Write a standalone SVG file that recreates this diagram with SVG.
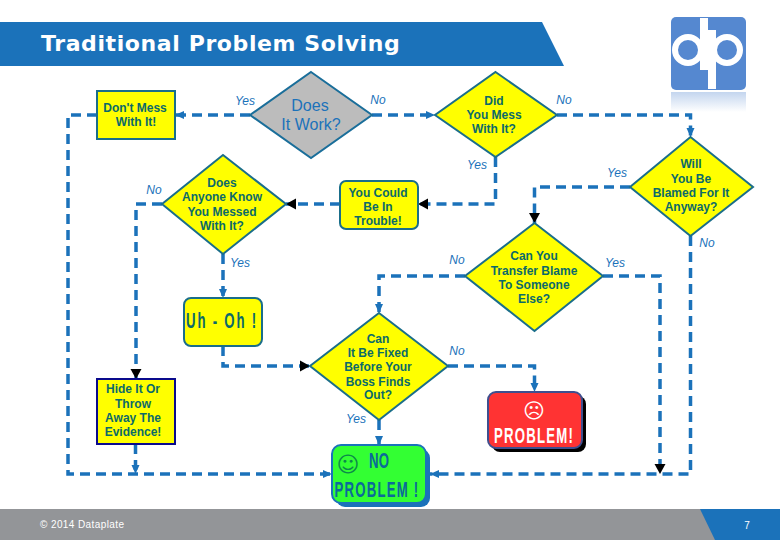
<svg xmlns="http://www.w3.org/2000/svg" width="780" height="540" viewBox="0 0 780 540">
<style>
.box{fill:#ffff00;stroke:#1a6e8a;stroke-width:2}
.t{font:bold 12px "Liberation Sans",Arial,sans-serif;fill:#0b6a6a;text-anchor:middle}
.l{font:italic 12px "Liberation Sans",Arial,sans-serif;fill:#1b72ba;text-anchor:middle}
.c{fill:none;stroke:#1b72ba;stroke-width:3.5;stroke-dasharray:10 6}
.b{font-family:"Liberation Sans",Arial,sans-serif;font-weight:bold;font-size:22px;text-anchor:middle}
</style>
<defs>
<marker id="a" markerUnits="userSpaceOnUse" markerWidth="10" markerHeight="10" refX="9" refY="5" orient="auto"><path d="M0 1L9 5L0 9Z" fill="#1b72ba"/></marker>
<marker id="k" markerUnits="userSpaceOnUse" markerWidth="11" markerHeight="12" refX="10" refY="6" orient="auto"><path d="M0 0.5L10 6L0 11.5Z" fill="#000"/></marker>
<linearGradient id="r" x1="0" y1="0" x2="0" y2="1"><stop offset="0" stop-color="#5588d0" stop-opacity=".35"/><stop offset="1" stop-color="#5588d0" stop-opacity="0"/></linearGradient>
</defs>
<path d="M0 22H542L564 66H0Z" fill="#1b72ba"/>
<text x="41" y="51" font-family="'DejaVu Sans',Verdana,sans-serif" font-weight="bold" font-size="22" letter-spacing="0.6" fill="#fff">Traditional Problem Solving</text>
<g id="logo">
<rect x="671" y="92" width="75" height="20" fill="url(#r)"/>
<rect x="671" y="17" width="75" height="73" rx="5" fill="#5588d0"/>
<circle cx="688" cy="50" r="13" fill="none" stroke="#fff" stroke-width="6"/>
<circle cx="727" cy="50" r="13" fill="none" stroke="#fff" stroke-width="6"/>
<rect x="700" y="18" width="8" height="52" fill="#fff"/>
<rect x="708" y="30" width="8" height="59" fill="#fff"/>
</g>
<g id="connectors">
<path class="c" marker-end="url(#a)" d="M250 115H175"/>
<path class="c" marker-end="url(#a)" d="M97 115H68V474H332"/>
<path class="c" marker-end="url(#a)" d="M372 115H435"/>
<path class="c" marker-end="url(#a)" d="M557 115H690.500V137"/>
<path class="c" marker-end="url(#k)" d="M495.500 157V204H418"/>
<path class="c" marker-end="url(#k)" d="M340 204H286"/>
<path class="c" marker-end="url(#k)" d="M162 204H136V379"/>
<path class="c" marker-end="url(#a)" d="M223 254V298"/>
<path class="c" marker-end="url(#k)" d="M223 346V366H310"/>
<path class="c" marker-end="url(#k)" d="M630 187H534.500V223"/>
<path class="c" marker-end="url(#a)" d="M690.500 236V474H430"/>
<path class="c" marker-end="url(#a)" d="M465 276H379V313"/>
<path class="c" marker-end="url(#k)" d="M603 276H660V474"/>
<path class="c" marker-end="url(#a)" d="M448 366H534.500V392"/>
<path class="c" stroke-dasharray="5 2" marker-end="url(#a)" d="M379 420V445"/>
<path class="c" stroke-dasharray="7 3" marker-end="url(#a)" d="M135.500 444V474"/>
</g>
<g id="labels">
<text class="l" x="245" y="105">Yes</text>
<text class="l" x="378" y="104">No</text>
<text class="l" x="564" y="104">No</text>
<text class="l" x="477" y="169">Yes</text>
<text class="l" x="617" y="177">Yes</text>
<text class="l" x="154" y="194">No</text>
<text class="l" x="240" y="267">Yes</text>
<text class="l" x="457" y="264">No</text>
<text class="l" x="707" y="247">No</text>
<text class="l" x="615" y="267">Yes</text>
<text class="l" x="457" y="355">No</text>
<text class="l" x="356" y="423">Yes</text>
</g>
<g id="does-it-work">
<path d="M311 72L372 115L311 158L250 115Z" fill="#bcbcbc" stroke="#1a6e9a" stroke-width="2"/>
<text x="310" y="111" font-family="'Liberation Sans',Arial,sans-serif" font-size="16" fill="#1b72ba" text-anchor="middle">Does</text>
<text x="311" y="130" font-family="'Liberation Sans',Arial,sans-serif" font-size="16" fill="#1b72ba" text-anchor="middle">It Work?</text>
</g>
<g id="dont-mess">
<rect class="box" x="97" y="91" width="78" height="48"/>
<text class="t" x="135" y="112">Don't Mess</text><text class="t" x="136" y="126">With It!</text>
</g>
<g id="did-you-mess">
<path class="box" d="M495.500 72L557 115L495.500 157L435 115Z"/>
<text class="t" x="494" y="105">Did</text><text class="t" x="494" y="119">You Mess</text><text class="t" x="494" y="133">With It?</text>
</g>
<g id="will-you-be-blamed">
<path class="box" d="M690.500 137L753 187L690.500 236L630 187Z"/>
<text class="t" x="691" y="168">Will</text><text class="t" x="691" y="183">You Be</text><text class="t" x="691" y="197">Blamed For It</text><text class="t" x="691" y="211">Anyway?</text>
</g>
<g id="does-anyone-know">
<path class="box" d="M223 155L286 204L223 254L162 204Z"/>
<text class="t" x="222" y="187">Does</text><text class="t" x="222" y="201">Anyone Know</text><text class="t" x="222" y="216">You Messed</text><text class="t" x="222" y="230">With It?</text>
</g>
<g id="you-could">
<rect class="box" x="340" y="181" width="78" height="48" rx="6"/>
<text class="t" x="378" y="197">You Could</text><text class="t" x="378" y="211">Be In</text><text class="t" x="378" y="225">Trouble!</text>
</g>
<g id="can-you-transfer">
<path class="box" d="M534.500 223L603 276L534.500 331L465 276Z"/>
<text class="t" x="534" y="260">Can You</text><text class="t" x="534" y="275">Transfer Blame</text><text class="t" x="534" y="289">To Someone</text><text class="t" x="534" y="303">Else?</text>
</g>
<g id="uh-oh">
<rect class="box" x="184" y="298" width="78" height="48" rx="7"/>
<text class="b" transform="translate(222 328) scale(.6 1)" letter-spacing="3" fill="#0b6a6a">Uh - Oh !</text>
</g>
<g id="can-it-be-fixed">
<path class="box" d="M379 313L448 366L379 420L310 366Z"/>
<text class="t" x="378" y="343">Can</text><text class="t" x="378" y="357">It Be Fixed</text><text class="t" x="378" y="371">Before Your</text><text class="t" x="378" y="386">Boss Finds</text><text class="t" x="378" y="399">Out?</text>
</g>
<g id="hide-it">
<rect x="97" y="379" width="78" height="65" fill="#ffff00" stroke="#0a0a8c" stroke-width="2"/>
<text class="t" x="133" y="393">Hide It Or</text><text class="t" x="133" y="408">Throw</text><text class="t" x="133" y="422">Away The</text><text class="t" x="133" y="436">Evidence!</text>
</g>
<g id="problem">
<rect x="492" y="396" width="94" height="56" rx="8" fill="#000"/>
<rect x="488" y="392" width="94" height="56" rx="8" fill="#ff3333" stroke="#3f4f8f" stroke-width="2"/>
<text x="534" y="418" font-family="'DejaVu Sans',sans-serif" font-size="21" fill="#fff" text-anchor="middle">☹</text>
<text class="b" transform="translate(534 443) scale(.6 1)" letter-spacing="2" fill="#fff">PROBLEM!</text>
</g>
<g id="no-problem">
<rect x="336" y="449" width="94" height="58" rx="9" fill="#1b72ba"/>
<rect x="332" y="445" width="94" height="58" rx="9" fill="#33ff33" stroke="#1b72ba" stroke-width="2"/>
<text x="348" y="472" font-family="'DejaVu Sans',sans-serif" font-size="22" fill="#0b8a4a" text-anchor="middle">☺</text>
<text class="b" transform="translate(379 468) scale(.6 1)" fill="#0b6a9a">NO</text>
<text class="b" transform="translate(377 497) scale(.6 1)" letter-spacing="2" fill="#0b6a9a">PROBLEM !</text>
</g>
<g id="footer">
<rect x="0" y="509" width="780" height="31" fill="#939598"/>
<path d="M700 509H780V540H715Z" fill="#1b72ba"/>
<text x="40" y="528" font-family="'Liberation Sans',Arial,sans-serif" font-size="10" letter-spacing="0.4" fill="#fff">© 2014 Dataplate</text>
<text x="747" y="529" font-family="'Liberation Sans',Arial,sans-serif" font-size="10" fill="#fff" text-anchor="middle">7</text>
</g>
</svg>
